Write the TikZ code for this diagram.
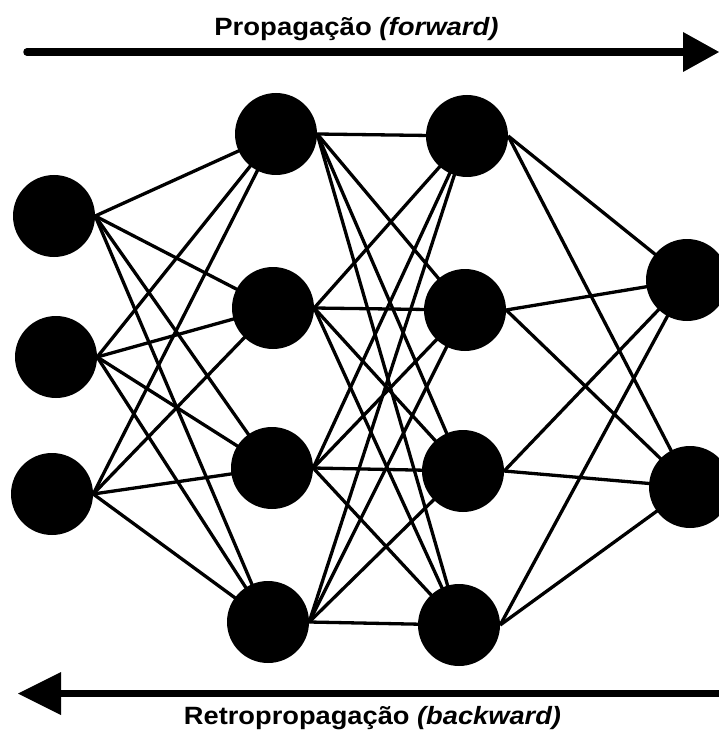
\documentclass[tikz,border=0pt]{standalone}
\usepackage{fontspec}
\setmainfont{Liberation Sans}
\usepackage{graphicx}
\usetikzlibrary{backgrounds}
\begin{document}
\begin{tikzpicture}[x=1pt,y=-1pt,
  neuron/.style={circle,fill=black,minimum size=82pt,inner sep=0pt},
  link/.style={line width=3.3pt},
  bigarrow/.style={line width=7.5pt},
  headfill/.style={fill=black},
  lbl/.style={font=\fontsize{25}{30}\selectfont\bfseries,inner sep=0pt,anchor=base}]
\useasboundingbox (0,0) rectangle (719,730);
\begin{scope}
\clip (0,0) rectangle (719,730);
% input layer
\node[neuron] (i1) at (54,216) {};
\node[neuron] (i2) at (56,357) {};
\node[neuron] (i3) at (52,494) {};
% hidden layer 1
\node[neuron] (h1) at (276,134) {};
\node[neuron] (h2) at (273,308) {};
\node[neuron] (h3) at (272,468) {};
\node[neuron] (h4) at (268,622) {};
% hidden layer 2
\node[neuron] (g1) at (467,136) {};
\node[neuron] (g2) at (465,310) {};
\node[neuron] (g3) at (463,471) {};
\node[neuron] (g4) at (459,625) {};
% output layer
\node[neuron] (o1) at (687,280) {};
\node[neuron] (o2) at (690,487) {};
% arrows
\coordinate (fa) at (27,52);
\coordinate (fb) at (690,52);
\draw[bigarrow,line cap=round] (fa) -- (fb);
\fill[headfill] (683,32) -- (719,52) -- (683,72) -- cycle;
\coordinate (ba) at (725,693.5);
\coordinate (bb) at (55,693.5);
\draw[bigarrow] (ba) -- (bb);
\fill[headfill] (61,672) -- (18,693.5) -- (61,715) -- cycle;
% labels
\node[lbl] (ft) at (356.5,35.7) {\scalebox{1.1}[1]{Propagação \textit{(forward)}}};
\node[lbl] (bt) at (372.5,724.3) {\scalebox{1.09}[1]{Retropropagação \textit{(backward)}}};
\end{scope}
\begin{pgfonlayer}{background}
\foreach \s in {i1,i2,i3}
  \foreach \t in {h1,h2,h3,h4}
    \draw[link] (\s.east) -- (\t.center);
\foreach \s in {h1,h2,h3,h4}
  \foreach \t in {g1,g2,g3,g4}
    \draw[link] (\s.east) -- (\t.center);
\foreach \s in {g1,g2,g3,g4}
  \foreach \t in {o1,o2}
    \draw[link] (\s.east) -- (\t.center);
\end{pgfonlayer}
\end{tikzpicture}
\end{document}
